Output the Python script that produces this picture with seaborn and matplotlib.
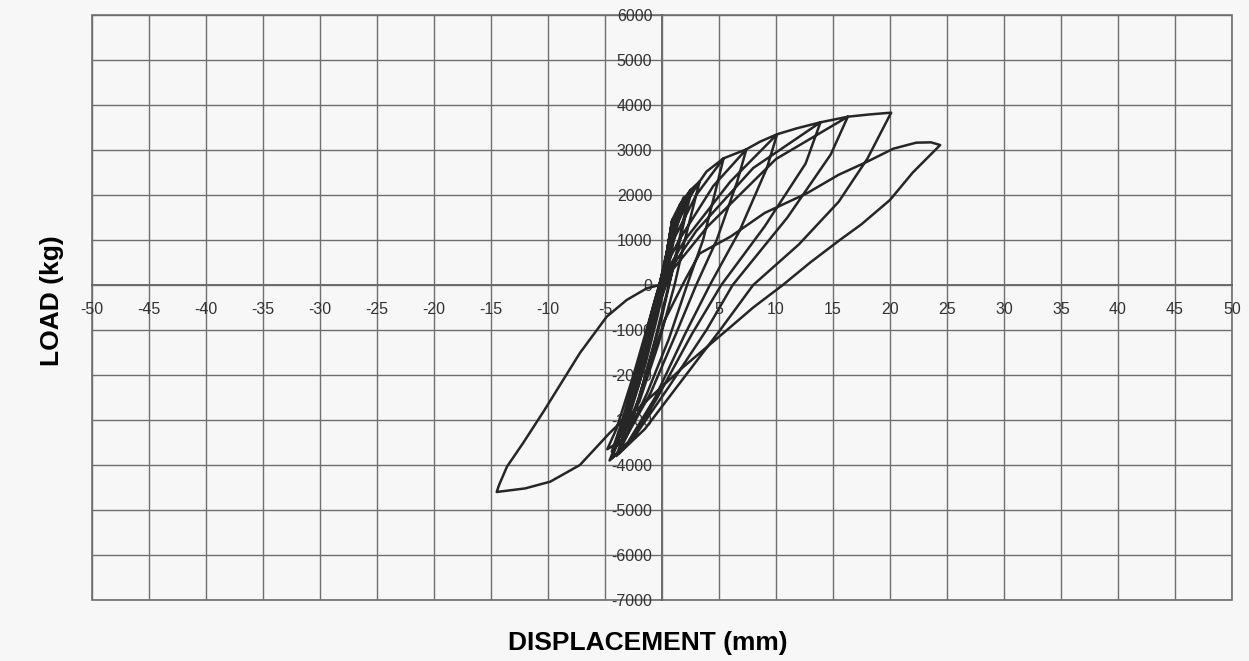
import matplotlib
matplotlib.use("Agg")
import matplotlib.pyplot as plt
import seaborn as sns
import pandas as pd

# ---------------- data (displacement mm, load kg) ----------------
c01_x = [0.0, 0.3, 0.6, 0.35, 0.0, -0.4, -1.0, -1.3]
c01_y = [0, 500, 1000, 600, 150, -300, -900, -1150]

c02_x = [-0.9, -0.3, 0.2, 0.6, 0.9, 0.6, 0.3, -0.2, -1.0, -1.8, -2.2]
c02_y = [-700, -100, 400, 1000, 1450, 1000, 500, -200, -1100, -1700, -2000]

c02b_x = [-1.7, -0.9, -0.1, 0.5, 0.8, 1.2, 0.9, 0.5, 0.0, -0.8, -1.6, -2.4]
c02b_y = [-1600, -800, 0, 800, 1250, 1550, 1200, 650, 0, -900, -1700, -2300]

c03_x = [-1.7, -0.8, 0.0, 0.5, 0.9, 1.6, 1.3, 0.8, 0.3, -0.5, -1.6, -2.5, -3.0]
c03_y = [-1500, -700, 150, 800, 1450, 1800, 1500, 900, 200, -700, -1700, -2450, -2800]

c03b_x = [-2.3, -1.3, -0.3, 0.4, 1.0, 1.9, 1.6, 1.0, 0.4, -0.4, -1.5, -2.7, -3.3]
c03b_y = [-2200, -1200, -100, 700, 1400, 1950, 1600, 950, 200, -700, -1800, -2700, -3100]

c04_x = [-2.5, -1.5, -0.4, 0.3, 1.0, 1.6, 2.5, 2.1, 1.5, 0.8, 0.0, -1.2, -2.5, -3.6]
c04_y = [-2300, -1300, -200, 600, 1300, 1800, 2110, 1700, 1000, 200, -700, -1800, -2900, -3300]

c05_x = [-3.0, -1.8, -0.6, 0.4, 1.4, 2.6, 2.2, 1.4, 0.6, -0.6, -2.0, -3.5]
c05_y = [-2900, -1700, -400, 600, 1500, 2100, 1700, 800, 0, -1200, -2500, -3450]

c06_x = [-2.8, -1.5, -0.3, 0.5, 1.6, 2.5, 3.3, 2.8, 2.0, 1.1, -0.3, -2.0, -4.0]
c06_y = [-2800, -1500, -200, 700, 1700, 2110, 2300, 1800, 1000, 0, -1300, -2600, -3500]

c07_x = [-3.2, -2.0, -0.6, 0.3, 1.0, 2.3, 3.3, 3.9, 5.4, 4.8, 3.6, 2.2, 0.6, -1.3, -3.0, -4.4]
c07_y = [-3000, -1900, -400, 500, 1150, 1900, 2300, 2520, 2815, 2200, 1000, 0, -1200, -2400, -3300, -3700]

c08_x = [-3.6, -2.2, -0.7, 0.2, 1.0, 3.0, 5.4, 7.4, 6.6, 4.8, 3.0, 1.2, -1.0, -3.2, -4.8]
c08_y = [-3100, -1900, -400, 400, 1000, 2000, 2815, 3015, 2300, 1000, 0, -1100, -2400, -3400, -3650]

c09_x = [-4.0, -2.5, -0.8, 0.2, 1.5, 4.5, 7.4, 8.6, 10.1, 9.2, 6.8, 4.2, 2.0, -0.6, -3.0, -4.4]
c09_y = [-3200, -2000, -500, 350, 1000, 2200, 3015, 3185, 3350, 2600, 1200, 0, -1100, -2500, -3500, -3850]

c10_x = [-3.6, -2.3, -0.7, 0.4, 2.0, 6.0, 10.1, 11.8, 13.9, 12.6, 9.0, 5.2, 2.6, -0.4, -2.8, -4.0]
c10_y = [-3300, -2100, -500, 300, 1000, 2300, 3350, 3480, 3615, 2700, 1300, 0, -1100, -2500, -3500, -3800]

c11_x = [-3.4, -2.0, -0.5, 0.6, 3.0, 8.0, 13.9, 16.3, 14.8, 11.0, 6.2, 3.9, 0.5, -2.5, -4.6]
c11_y = [-3350, -2200, -600, 300, 1200, 2600, 3615, 3740, 2900, 1500, 0, -1000, -2300, -3400, -3900]

c12_x = [-3.8, -2.2, -0.5, 0.8, 4.0, 10.0, 16.3, 18.2, 20.1, 18.0, 15.5, 12.0, 8.0, 5.1, 1.5, -1.5, -3.8]
c12_y = [-3400, -2200, -600, 300, 1300, 2800, 3740, 3790, 3830, 2800, 1850, 900, 0, -1000, -2200, -3200, -3750]

c13_x = [-3.0, -1.6, 0.2, 2.0, 3.3, 6.0, 9.0, 12.7, 15.5, 18.0, 20.3, 22.3, 23.6, 24.4,
         22.0, 20.0, 17.5, 15.6, 13.0, 10.6, 8.0, 5.7, 1.9, -1.9, -3.7, -4.6, -7.2, -9.8,
         -12.0, -14.5, -14.3, -13.6, -12.2, -10.4, -7.2, -4.85, -3.1, -1.34, -0.2]
c13_y = [-3300, -2200, -800, 100, 700, 1073, 1600, 2037, 2450, 2740, 3030, 3163, 3170, 3110,
         2500, 1890, 1350, 1000, 500, 0, -500, -1000, -1815, -2700, -3070, -3290, -4000, -4370,
         -4520, -4600, -4450, -4037, -3518, -2815, -1511, -704, -333, -74, 0]

x_ticks = [-50, -45, -40, -35, -30, -25, -20, -15, -10, -5, 0, 5, 10, 15, 20, 25, 30, 35, 40, 45, 50]
x_tick_labels = ["-50", "-45", "-40", "-35", "-30", "-25", "-20", "-15", "-10", "-5", "",
                 "5", "10", "15", "20", "25", "30", "35", "40", "45", "50"]
y_ticks = [-7000, -6000, -5000, -4000, -3000, -2000, -1000, 0, 1000, 2000, 3000, 4000, 5000, 6000]
y_tick_labels = ["-7000", "-6000", "-5000", "-4000", "-3000", "-2000", "-1000", "0",
                 "1000", "2000", "3000", "4000", "5000", "6000"]

x_title = "DISPLACEMENT (mm)"
y_title = "LOAD (kg)"

# ---------------- build the trace ----------------
cycles_x = [c01_x, c02_x, c02b_x, c03_x, c03b_x, c04_x, c05_x, c06_x, c07_x, c08_x,
            c09_x, c10_x, c11_x, c12_x, c13_x]
cycles_y = [c01_y, c02_y, c02b_y, c03_y, c03b_y, c04_y, c05_y, c06_y, c07_y, c08_y,
            c09_y, c10_y, c11_y, c12_y, c13_y]
xs, ys = [], []
for cx, cy in zip(cycles_x, cycles_y):
    assert len(cx) == len(cy)
    xs.extend(cx)
    ys.extend(cy)
df = pd.DataFrame({"disp": xs, "load": ys})

# ---------------- plot ----------------
sns.set_theme(style="white")
plt.rcParams["font.family"] = ["Liberation Sans", "DejaVu Sans"]

bg = "#f7f7f7"
fig = plt.figure(figsize=(12.49, 6.61), dpi=100, facecolor=bg)
ax = fig.add_axes([92 / 1249, 61 / 661, 1140 / 1249, 585 / 661])
ax.set_facecolor(bg)
ax.patch.set_edgecolor("#6e6e6e")
ax.patch.set_linewidth(1.2)

sns.lineplot(data=df, x="disp", y="load", sort=False, estimator=None,
             color="#262626", linewidth=1.8, ax=ax)

ax.set_xlim(-50, 50)
ax.set_ylim(-7000, 6000)
ax.set_xticks(x_ticks)
ax.set_xticklabels(x_tick_labels)
ax.set_yticks(y_ticks)
ax.set_yticklabels(y_tick_labels)
ax.set_xlabel("")
ax.set_ylabel("")

ax.grid(True, color="#6e6e6e", linewidth=1.0)
ax.set_axisbelow(True)

for side in ["top", "right"]:
    ax.spines[side].set_visible(False)
ax.spines["left"].set_position(("data", 0))
ax.spines["bottom"].set_position(("data", 0))
for side in ["left", "bottom"]:
    ax.spines[side].set_color("#505050")
    ax.spines[side].set_linewidth(1.2)
    ax.spines[side].set_zorder(0.5)

ax.tick_params(axis="x", length=0, pad=12, labelsize=11.5, labelcolor="#333333")
ax.tick_params(axis="y", length=0, pad=7, labelsize=11.5, labelcolor="#333333")

fig.text(648 / 1249, 1 - 643 / 661, x_title, ha="center", va="center",
         fontsize=19, fontweight="bold", color="black")
fig.text(52 / 1249, 1 - 301 / 661, y_title, ha="center", va="center", rotation=90,
         fontsize=19, fontweight="bold", color="black")

fig.savefig("out.png", dpi=100, facecolor=bg)
